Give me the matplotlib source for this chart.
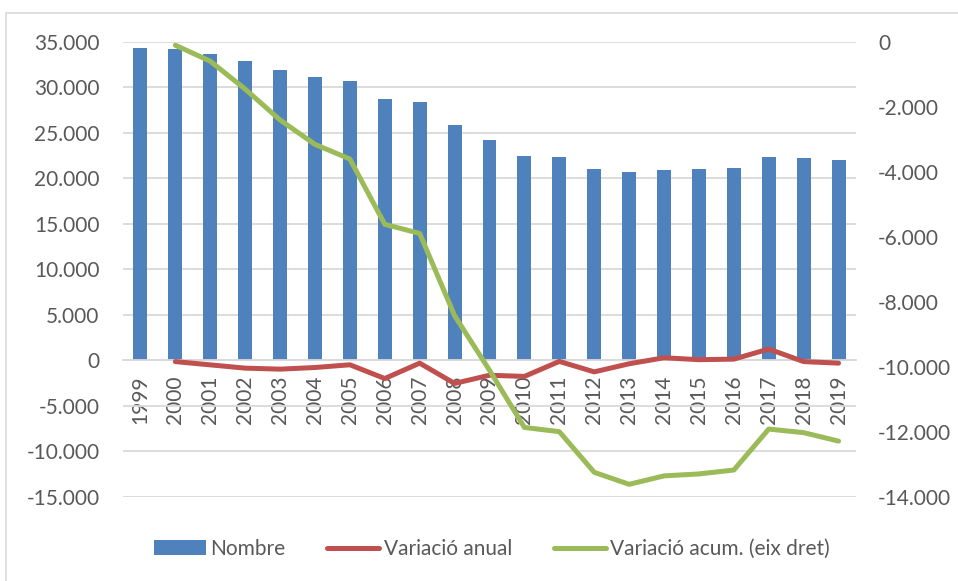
import numpy as np
import matplotlib.pyplot as plt
from matplotlib.ticker import FuncFormatter, MultipleLocator
from matplotlib.patches import Rectangle

# values
years = [str(y) for y in range(1999, 2020)]
nombre = [34300, 34190, 33710, 32870, 31920, 31150, 30680, 28700, 28410, 25890,
          24260, 22490, 22340, 21060, 20700, 20950, 21030, 21140, 22380, 22270, 22020]
# variacio anual starts in 2000
var_anual = [-120, -480, -840, -950, -770, -470, -1980, -290, -2520, -1620,
             -1750, -100, -1250, -360, 300, 90, 150, 1260, -120, -290]
# variacio acumulada (eix dret), also from 2000
var_acum = [-100, -590, -1450, -2400, -3150, -3600, -5610, -5890, -8420, -10100,
            -11860, -11990, -13240, -13610, -13350, -13290, -13170, -11910, -12020, -12280]

blue = "#4F81BD"
red = "#C0504D"
green = "#9BBB59"
txt = "#595959"

plt.rcParams['font.family'] = ['Lato', 'DejaVu Sans']
plt.rcParams['font.size'] = 15

fig = plt.figure(figsize=(9.58, 5.81), dpi=100)
# light frame around the chart
fig.patches.append(Rectangle((6/958, -0.1), 1.2, 1 - 13/581 + 0.1, transform=fig.transFigure,
                             fill=False, edgecolor="#D9D9D9", linewidth=1.2))

ax = fig.add_axes([123/958, 1 - 497/581, (856 - 123)/958, (497 - 42)/581])
x = np.arange(len(years))

bars = ax.bar(x, nombre, width=0.4, color=blue, label="Nombre", zorder=2)
l_anual, = ax.plot(x[1:], var_anual, color=red, lw=3.6, label="Variació anual", zorder=3,
                   solid_capstyle="round")

ax.set_xlim(-0.5, len(years) - 0.5)
ax.set_ylim(-15000, 35000)
ax.yaxis.set_major_locator(MultipleLocator(5000))
fmt = FuncFormatter(lambda v, p: f"{int(round(v)):,}".replace(",", "."))
ax.yaxis.set_major_formatter(fmt)
ax.grid(axis="y", color="#D9D9D9", lw=1.3, zorder=0)
ax.set_axisbelow(True)

for s in ["top", "left", "right"]:
    ax.spines[s].set_visible(False)
ax.spines["bottom"].set_position(("data", 0))
ax.spines["bottom"].set_color("#D9D9D9")
ax.spines["bottom"].set_linewidth(1.3)

ax.set_xticks(x)
ax.set_xticklabels(years, rotation=90)
ax.tick_params(axis="x", length=0, pad=11, colors=txt)
ax.tick_params(axis="y", length=0, pad=17, colors=txt)

ax2 = ax.twinx()
l_acum, = ax2.plot(x[1:], var_acum, color=green, lw=3.6, label="Variació acum. (eix dret)",
                   zorder=4, solid_capstyle="round")
ax2.set_ylim(-14000, 0)
ax2.yaxis.set_major_locator(MultipleLocator(2000))
ax2.yaxis.set_major_formatter(fmt)
ax2.tick_params(axis="y", length=0, pad=16, colors=txt)
for s in ax2.spines.values():
    s.set_visible(False)

fig.legend([bars, l_anual, l_acum],
           ["Nombre", "Variació anual", "Variació acum. (eix dret)"],
           loc="center", bbox_to_anchor=(492/958, 1 - 549/581),
           ncol=3, frameon=False, handlelength=2.5, handletextpad=0.2,
           columnspacing=2.0, labelcolor=txt, fontsize=15)

fig.savefig("out.png", dpi=100)
